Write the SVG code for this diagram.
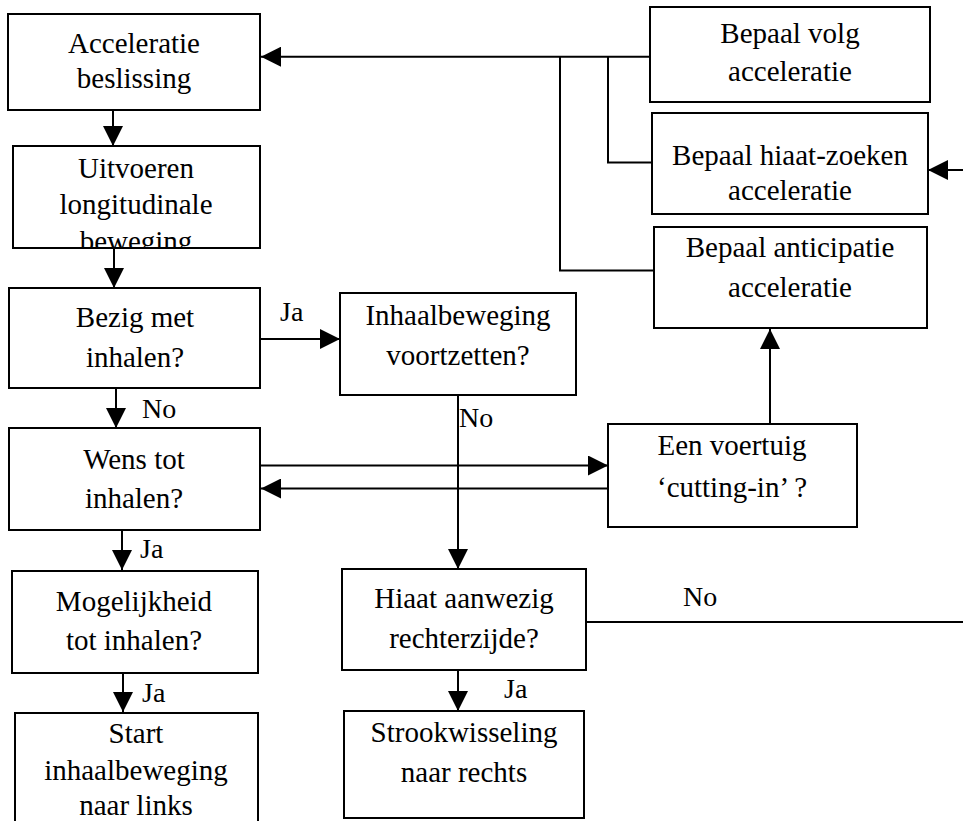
<svg xmlns="http://www.w3.org/2000/svg" width="963" height="821" viewBox="0 0 963 821">
<style>
.box{fill:#fff;stroke:#000;stroke-width:2}
.t{font-family:'Liberation Serif',serif;font-size:29px;fill:#000;text-anchor:middle}
.lbl{font-family:'Liberation Serif',serif;font-size:28px;fill:#000}
.c{fill:none;stroke:#000;stroke-width:2}
</style>
<defs>
<marker id="ah" viewBox="0 0 20 20" refX="20" refY="10" markerWidth="20" markerHeight="20" markerUnits="userSpaceOnUse" orient="auto"><path d="M0,0 L20,10 L0,20 z" fill="#000"/></marker>
<clipPath id="clip2"><rect x="13" y="146" width="247" height="102"/></clipPath>
</defs>
<rect width="963" height="821" fill="#fff"/>
<g id="connectors">
<path class="c" d="M113,110 V146" marker-end="url(#ah)"/>
<path class="c" d="M114,248 V288" marker-end="url(#ah)"/>
<path class="c" d="M260,339 H340" marker-end="url(#ah)"/>
<path class="c" d="M116,388 V428" marker-end="url(#ah)"/>
<path class="c" d="M458,395 V569" marker-end="url(#ah)"/>
<path class="c" d="M260,465.5 H608" marker-end="url(#ah)"/>
<path class="c" d="M608,488.5 H261" marker-end="url(#ah)"/>
<path class="c" d="M770,424 V329" marker-end="url(#ah)"/>
<path class="c" d="M122,530 V570" marker-end="url(#ah)"/>
<path class="c" d="M123,673 V712" marker-end="url(#ah)"/>
<path class="c" d="M458,670 V711" marker-end="url(#ah)"/>
<path class="c" d="M586,622 H963"/>
<path class="c" d="M963,170 H928" marker-end="url(#ah)"/>
<path class="c" d="M650,56.7 H261" marker-end="url(#ah)"/>
<path class="c" d="M560,56.7 V270.5 H654"/>
<path class="c" d="M608,56.7 V162.5 H652"/>
</g>
<g id="labels">
<text class="lbl" x="280" y="321">Ja</text>
<text class="lbl" x="142" y="418">No</text>
<text class="lbl" x="459" y="427">No</text>
<text class="lbl" x="140" y="558">Ja</text>
<text class="lbl" x="142" y="702">Ja</text>
<text class="lbl" x="504" y="698">Ja</text>
<text class="lbl" x="683" y="606">No</text>
</g>
<g id="n1"><rect class="box" x="8" y="14" width="252" height="96"/><text class="t" x="134" y="53">Acceleratie</text><text class="t" x="134" y="88">beslissing</text></g>
<g id="n2"><rect class="box" x="13" y="146" width="247" height="102"/><g clip-path="url(#clip2)"><text class="t" x="136" y="178">Uitvoeren</text><text class="t" x="136" y="214">longitudinale</text><text class="t" x="136" y="251">beweging</text></g><line x1="13" y1="248" x2="260" y2="248" stroke="#000" stroke-width="2"/></g>
<g id="n3"><rect class="box" x="9" y="288" width="251" height="100"/><text class="t" x="135" y="327">Bezig met</text><text class="t" x="135" y="367">inhalen?</text></g>
<g id="n4"><rect class="box" x="340" y="293" width="236" height="102"/><text class="t" x="458" y="325">Inhaalbeweging</text><text class="t" x="458" y="365">voortzetten?</text></g>
<g id="n5"><rect class="box" x="9" y="428" width="251" height="102"/><text class="t" x="134" y="469">Wens tot</text><text class="t" x="134" y="508">inhalen?</text></g>
<g id="n6"><rect class="box" x="608" y="424" width="249" height="103"/><text class="t" x="732" y="455">Een voertuig</text><text class="t" x="732" y="497">‘cutting-in’ ?</text></g>
<g id="n7"><rect class="box" x="12" y="571" width="246" height="102"/><text class="t" x="134" y="611">Mogelijkheid</text><text class="t" x="134" y="650">tot inhalen?</text></g>
<g id="n8"><rect class="box" x="342" y="569" width="244" height="101"/><text class="t" x="464" y="608">Hiaat aanwezig</text><text class="t" x="464" y="648">rechterzijde?</text></g>
<g id="n9"><rect class="box" x="15" y="713" width="243" height="120"/><text class="t" x="136" y="743">Start</text><text class="t" x="136" y="780">inhaalbeweging</text><text class="t" x="136" y="815">naar links</text></g>
<g id="n10"><rect class="box" x="344" y="711" width="240" height="107"/><text class="t" x="464" y="742">Strookwisseling</text><text class="t" x="464" y="782">naar rechts</text></g>
<g id="n11"><rect class="box" x="650" y="7" width="280" height="95"/><text class="t" x="790" y="43">Bepaal volg</text><text class="t" x="790" y="81">acceleratie</text></g>
<g id="n12"><rect class="box" x="652" y="113" width="276" height="101"/><text class="t" x="790" y="165">Bepaal hiaat-zoeken</text><text class="t" x="790" y="200">acceleratie</text></g>
<g id="n13"><rect class="box" x="654" y="227" width="273" height="101"/><text class="t" x="790" y="257">Bepaal anticipatie</text><text class="t" x="790" y="297">acceleratie</text></g>
</svg>
